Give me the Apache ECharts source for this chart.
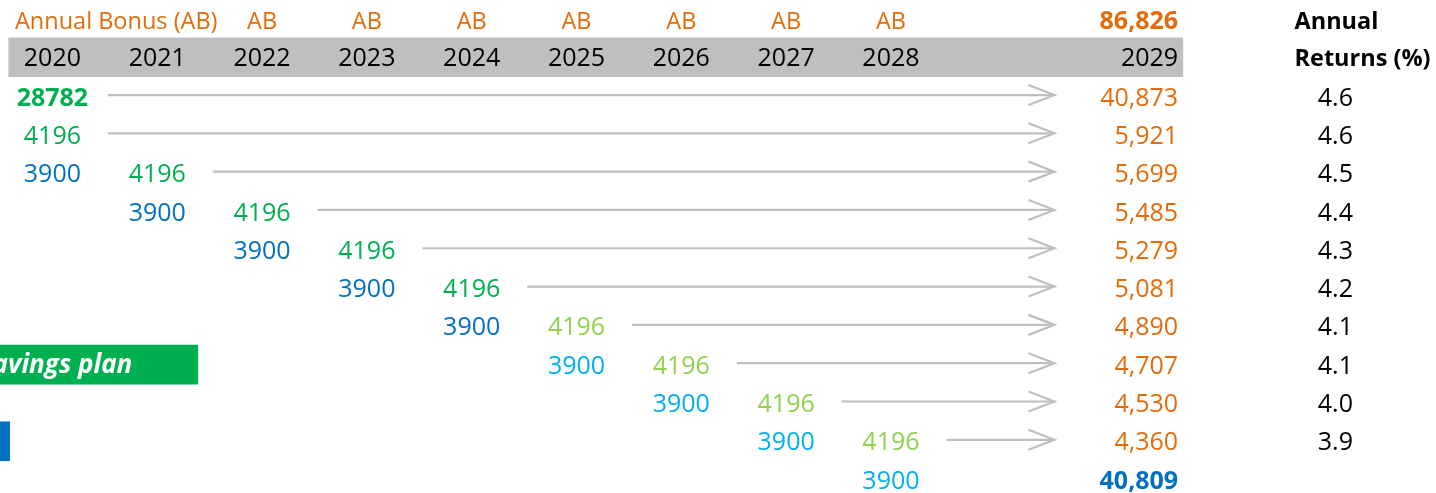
<!DOCTYPE html>
<html><head><meta charset="utf-8">
<script src="https://cdn.jsdelivr.net/npm/echarts@6/dist/echarts.min.js"></script>
<style>html,body{margin:0;padding:0;background:#fff;overflow:hidden}#c{width:1436px;height:493px}</style>
</head><body><div id="c"></div>
<script>
// ---------- data ----------
const years = ['2020','2021','2022','2023','2024','2025','2026','2027','2028','2029'];
const bonusHeader = ['Annual Bonus (AB)','','AB','AB','AB','AB','AB','AB','AB'];
const totalBonus = 86826;
const initialDeposit = 28782;
const annualBonus = [4196,4196,4196,4196,4196,4196,4196,4196,4196];      // paid 2020..2028
const monthlySavings = [3900,3900,3900,3900,3900,3900,3900,3900,3900];   // paid 2020..2028
const valueIn2029 = [40873,5921,5699,5485,5279,5081,4890,4707,4530,4360];
const annualReturns = [4.6,4.6,4.5,4.4,4.3,4.2,4.1,4.1,4.0,3.9];
const monthlyTotal = 40809;
const returnsHeader = ['Annual','Returns (%)'];
const planLabel = 'Savings plan';

// ---------- layout / style ----------
const FONT = '"Open Sans", "Noto Sans", sans-serif';
const ORANGE = '#E36C0A', GREEN = '#00B050', LGREEN = '#92D050', BLUE = '#0070C0', LBLUE = '#00B0F0', GRAY = '#BFBFBF';
const COL_RIGHT = 10.74, COL_RET = 12.24, COL_RET_HEAD = 11.85, ARROW_END = 9.56, ARROW_GAP = 0.53;
const NUM = 25, TXT = 23.5, DY = 2;
const fmt = v => v.toLocaleString('en-US');

const texts = [];
function T(col, row, text, color, opt) { texts.push(Object.assign({col, row, text: String(text), color, size: NUM, weight: 'normal', align: 'center', dy: DY, italic: false}, opt || {})); }

// header rows
bonusHeader.forEach((t, i) => { if (!t) return; if (i === 0) T(-0.357, -2, t, ORANGE, {align: 'left', size: TXT}); else T(i, -2, t, ORANGE, {size: TXT}); });
T(COL_RIGHT, -2, fmt(totalBonus), ORANGE, {align: 'right', weight: 'bold'});
years.forEach((y, i) => { if (i < 9) T(i, -1, y, '#000', {dy: DY - 1}); else T(COL_RIGHT, -1, y, '#000', {align: 'right', dy: DY - 1}); });
T(COL_RET_HEAD, -2, returnsHeader[0], '#000', {align: 'left', weight: 'bold', size: TXT});
T(COL_RET_HEAD, -1, returnsHeader[1], '#000', {align: 'left', weight: 'bold', size: TXT, dy: DY - 1});

// body
const arrows = [];
T(0, 0, initialDeposit, GREEN, {weight: 'bold'});
arrows.push([ARROW_GAP, ARROW_END, 0]);
annualBonus.forEach((v, i) => { T(i, i + 1, v, i < 5 ? GREEN : LGREEN); arrows.push([i + ARROW_GAP, ARROW_END, i + 1]); });
monthlySavings.forEach((v, i) => { T(i, i + 2, v, i < 5 ? BLUE : LBLUE); });
valueIn2029.forEach((v, r) => T(COL_RIGHT, r, fmt(v), ORANGE, {align: 'right'}));
annualReturns.forEach((v, r) => T(COL_RET, r, v.toFixed(1), '#000'));
T(COL_RIGHT, 10, fmt(monthlyTotal), BLUE, {align: 'right', weight: 'bold'});

// boxes: [x0, x1, row, color, dy]
const boxes = [[-0.42, 10.788, -1, GRAY, -1], [-0.6, 1.39, 7, GREEN, 0], [-0.6, -0.405, 9, BLUE, 0]];

const chart = echarts.init(document.getElementById('c'), null, {renderer: 'canvas'});
chart.setOption({
  animation: false,
  backgroundColor: '#fff',
  grid: {left: 0, right: 0, top: 0, bottom: 0},
  xAxis: {type: 'value', min: -0.5, max: 13.2, show: false},
  yAxis: {type: 'value', min: -2.52, max: 10.35, inverse: true, show: false},
  series: [
    {
      type: 'custom', data: boxes.map((b, i) => [b[0], b[1], b[2], i]), z: 1,
      renderItem(params, api) {
        const b = boxes[params.dataIndex];
        const p0 = api.coord([b[0], b[2]]), p1 = api.coord([b[1], b[2]]);
        return {type: 'rect', shape: {x: p0[0], y: p0[1] - 19.8 + b[4], width: p1[0] - p0[0], height: 39.6}, style: {fill: b[3]}};
      }
    },
    {
      type: 'custom', data: [[0.762, 7]], z: 2,
      renderItem(params, api) {
        const p = api.coord([api.value(0), api.value(1)]);
        return {type: 'text', x: p[0], y: p[1] + 1, style: {text: planLabel, fill: '#fff', fontFamily: FONT, fontSize: 26, fontWeight: 'bold', fontStyle: 'italic', align: 'right', verticalAlign: 'middle'}};
      }
    },
    {
      type: 'custom', data: arrows, z: 2,
      renderItem(params, api) {
        const s = api.coord([api.value(0), api.value(2)]), e = api.coord([api.value(1), api.value(2)]);
        const y = s[1] - 1.5;
        return {type: 'group', children: [
          {type: 'line', shape: {x1: s[0], y1: y, x2: e[0] - 1, y2: y}, style: {stroke: GRAY, lineWidth: 2.2}},
          {type: 'polyline', shape: {points: [[e[0] - 26, y - 10], [e[0], y], [e[0] - 26, y + 10]]}, style: {stroke: GRAY, lineWidth: 2.2, fill: null}}
        ]};
      }
    },
    {
      type: 'custom', data: texts.map((t, i) => [t.col, t.row, i]), z: 3,
      renderItem(params, api) {
        const t = texts[params.dataIndex];
        const p = api.coord([t.col, t.row]);
        return {type: 'text', x: p[0], y: p[1] + t.dy, style: {text: t.text, fill: t.color, fontFamily: FONT, fontSize: t.size, fontWeight: t.weight, fontStyle: t.italic ? 'italic' : 'normal', align: t.align, verticalAlign: 'middle'}};
      }
    }
  ]
});
</script></body></html>
